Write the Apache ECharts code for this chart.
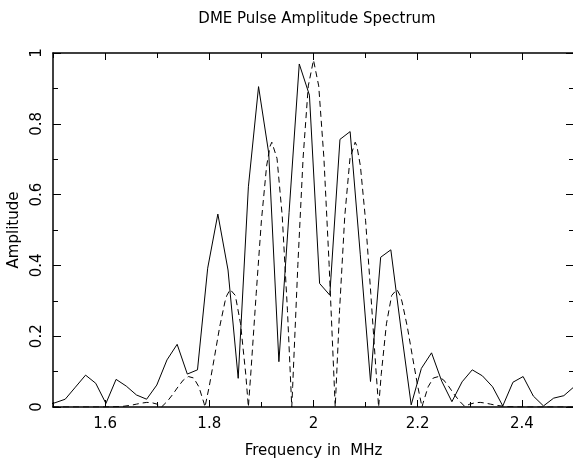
<!DOCTYPE html>
<html>
<head>
<meta charset="utf-8">
<script src="https://cdn.jsdelivr.net/npm/echarts@6/dist/echarts.min.js"></script>
<style>html,body{margin:0;padding:0;background:#fff;}#c{width:573px;height:460px;}</style>
</head>
<body>
<div id="c"></div>
<script>
// Measured spectrum (solid): frequency bins in MHz and amplitudes
var solidFreq = [1.48438,1.50391,1.52344,1.54297,1.5625,1.58203,1.60156,1.62109,1.64063,1.66016,1.67969,1.69922,1.71875,1.73828,1.75781,1.77734,1.79688,1.81641,1.83594,1.85547,1.875,1.89453,1.91406,1.93359,1.95313,1.97266,1.99219,2.01172,2.03125,2.05078,2.07031,2.08984,2.10938,2.12891,2.14844,2.16797,2.1875,2.20703,2.22656,2.24609,2.26563,2.28516,2.30469,2.32422,2.34375,2.36328,2.38281,2.40234,2.42188,2.44141,2.46094,2.48047,2.5];
var solidAmp = [0.004,0.012,0.022,0.056,0.090,0.067,0.010,0.078,0.059,0.034,0.022,0.062,0.133,0.177,0.093,0.105,0.392,0.545,0.387,0.081,0.622,0.905,0.717,0.128,0.55,0.969,0.881,0.349,0.316,0.756,0.778,0.43,0.072,0.423,0.444,0.22,0.006,0.109,0.153,0.073,0.015,0.071,0.105,0.088,0.057,0.003,0.070,0.086,0.031,0.003,0.025,0.032,0.057];

// Theoretical spectrum (dashed)
var dashFreq = [1.50,1.60,1.63,1.65,1.66,1.67,1.68,1.69,1.70,1.7083,1.71,1.72,1.73,1.74,1.75,1.76,1.77,1.78,1.79,1.7917,1.80,1.81,1.82,1.83,1.8333,1.84,1.85,1.86,1.87,1.875,1.88,1.89,1.90,1.91,1.9167,1.92,1.93,1.94,1.95,1.9583,1.96,1.97,1.98,1.99,2.00,
  2.01,2.02,2.03,2.04,2.0417,2.05,2.06,2.07,2.08,2.0833,2.09,2.10,2.11,2.12,2.125,2.13,2.14,2.15,2.16,2.1667,2.17,2.18,2.19,2.20,2.2083,2.21,2.22,2.23,2.24,2.25,2.26,2.27,2.28,2.29,2.2917,2.30,2.31,2.32,2.33,2.34,2.35,2.37,2.40,2.50];
var dashAmp = [0,0,0.001,0.005,0.008,0.011,0.013,0.012,0.008,0,0.002,0.017,0.036,0.057,0.076,0.086,0.082,0.057,0.010,0,0.059,0.142,0.227,0.297,0.314,0.332,0.315,0.235,0.092,0,0.102,0.320,0.526,0.681,0.737,0.748,0.702,0.539,0.273,0,0.058,0.402,0.703,0.907,0.98,
  0.907,0.703,0.402,0.058,0,0.273,0.539,0.702,0.748,0.737,0.681,0.526,0.320,0.102,0,0.092,0.235,0.315,0.332,0.314,0.297,0.227,0.142,0.059,0,0.010,0.057,0.082,0.086,0.076,0.057,0.036,0.017,0.002,0,0.008,0.012,0.013,0.011,0.008,0.005,0.001,0,0];

var xLabels = [1.6,1.8,2,2.2,2.4];
var yLabels = [0,0.2,0.4,0.6,0.8,1];

var FONT = 'DejaVu Sans';
function zip(a,b){ return a.map(function(v,i){ return [v,b[i]]; }); }

function xAx(pos, major, withLabels){
  var ax = {
    type:'value', position:pos, min:1.5, max:2.5, interval:0.1,
    axisLine:{show:!major, onZero:false, lineStyle:{color:'#000', width:1.5}},
    axisTick:{show:true, inside:true, length: major?7:5, lineStyle:{color:'#000', width:1}},
    axisLabel:{show:false},
    splitLine:{show:false}
  };
  if (major) ax.axisTick.customValues = xLabels;
  if (withLabels) {
    ax.axisLabel = {show:true, customValues:xLabels, color:'#000', fontFamily:FONT, fontSize:15, margin:10};
    ax.name = 'Frequency in  MHz';
    ax.nameLocation = 'middle';
    ax.nameGap = 37;
    ax.nameTextStyle = {color:'#000', fontFamily:FONT, fontSize:15};
  }
  return ax;
}
function yAx(pos, major, withLabels){
  var ax = {
    type:'value', position:pos, min:0, max:1, interval:0.1,
    axisLine:{show:!major, onZero:false, lineStyle:{color:'#000', width:1.5}},
    axisTick:{show:true, inside:true, length: major?8:5, lineStyle:{color:'#000', width:1}},
    axisLabel:{show:false},
    splitLine:{show:false}
  };
  if (major) ax.axisTick.customValues = yLabels;
  if (withLabels) {
    ax.axisLabel = {show:true, customValues:yLabels, rotate:90, color:'#000', fontFamily:FONT, fontSize:15, margin:8};
    ax.name = 'Amplitude';
    ax.nameLocation = 'middle';
    ax.nameGap = 30;
    ax.nameTextStyle = {color:'#000', fontFamily:FONT, fontSize:15};
  }
  return ax;
}

var chart = echarts.init(document.getElementById('c'), null, {renderer:'canvas'});
chart.setOption({
  animation:false,
  backgroundColor:'#fff',
  title:{text:'DME Pulse Amplitude Spectrum', left:312, top:7, textAlign:'center',
    textStyle:{color:'#000', fontFamily:FONT, fontSize:15, fontWeight:'normal'}},
  grid:{left:53, right:-1, top:53, bottom:53, containLabel:false, outerBoundsMode:'none'},
  xAxis:[xAx('bottom',false,true), xAx('bottom',true,false), xAx('top',false,false), xAx('top',true,false)],
  yAxis:[yAx('left',false,true), yAx('left',true,false), yAx('right',false,false), yAx('right',true,false)],
  series:[
    {type:'line', xAxisIndex:0, yAxisIndex:0, data:zip(solidFreq, solidAmp), symbol:'none', clip:true,
      lineStyle:{color:'#000', width:1}},
    {type:'line', xAxisIndex:0, yAxisIndex:0, data:zip(dashFreq, dashAmp), symbol:'none', clip:true,
      lineStyle:{color:'#000', width:1, type:[6,4]}}
  ]
});
</script>
</body>
</html>
